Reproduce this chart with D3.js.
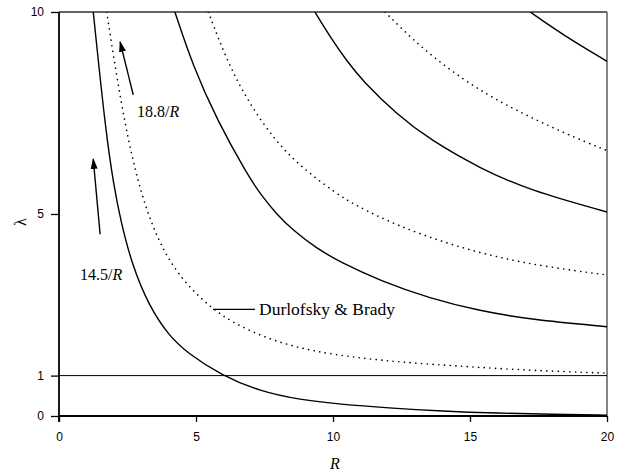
<!DOCTYPE html>
<html>
<head>
<meta charset="utf-8">
<script src="https://cdn.jsdelivr.net/npm/d3@7"></script>
<style>
  html, body { margin: 0; padding: 0; background: #fff; }
  svg { display: block; }
</style>
</head>
<body>
<svg id="chart" width="621" height="475"></svg>
<script>
// Neutral curves λ(R): [R, λ] samples for each branch
const solidA  = [[1.25,10],[1.7,7.06],[2.0,5.7],[2.25,4.84],[2.65,3.77],[3.3,2.7],[4.0,2.0],[4.66,1.57],[5.94,1.0],[7.34,0.61],[8.8,0.4],[10.26,0.29],[12,0.2],[14,0.12],[16,0.07],[18,0.04],[20,0.02]];
const dottedB = [[1.74,10],[2.29,7.6],[2.8,6.0],[3.2,5.1],[3.6,4.4],[4.05,3.82],[4.66,3.25],[5.51,2.7],[6.36,2.3],[7.58,1.92],[8.8,1.68],[10.0,1.52],[11.7,1.38],[13.54,1.28],[15.4,1.2],[17.19,1.13],[20,1.06]];
const solidC  = [[4.23,10],[4.89,8.66],[5.76,7.34],[6.85,6.0],[7.34,5.5],[7.95,4.99],[8.55,4.59],[9.4,4.15],[10.26,3.81],[11.72,3.35],[13.54,2.91],[15.37,2.6],[17.19,2.39],[20,2.21]];
const dottedD = [[5.45,10],[6.12,8.81],[6.85,7.84],[7.82,6.87],[8.8,6.18],[10.13,5.5],[10.86,5.2],[12.32,4.72],[14.15,4.27],[15.97,3.93],[17.8,3.69],[20,3.49]];
const solidE  = [[9.34,10],[9.89,9.39],[10.5,8.79],[11.1,8.28],[12.32,7.47],[13.54,6.84],[15.36,6.13],[17.19,5.58],[20,5.05]];
const dottedF = [[11.9,10],[12.93,9.3],[14.15,8.62],[15.36,8.06],[16.58,7.6],[18.4,7.01],[20,6.57]];
const solidG  = [[17.2,10],[18.4,9.43],[20,8.78]];

const xTicks = [0, 5, 10, 15, 20];
const yTicks = [0, 1, 5, 10];
const refLevel = 1;

// Annotations (data coordinates)
const arrow188 = { from: [2.71, 7.95], to: [2.23, 9.26] };
const label188 = { at: [2.85, 7.55], text: "18.8/", italic: "R" };
const arrow145 = { from: [1.5, 4.5], to: [1.25, 6.36] };
const label145 = { at: [0.77, 3.5], text: "14.5/", italic: "R" };
const leaderDB = { from: [5.62, 2.64], to: [7.15, 2.64] };
const labelDB  = { at: [7.3, 2.64], text: "Durlofsky & Brady" };

const margin = { left: 59, right: 14, top: 12, bottom: 59 };
const W = 621, H = 475;
const svg = d3.select("#chart");

const x = d3.scaleLinear().domain([0, 20]).range([margin.left, W - margin.right]);
const y = d3.scaleLinear().domain([0, 10]).range([H - margin.bottom, margin.top]);

const defs = svg.append("defs");
defs.append("clipPath").attr("id", "plot-clip")
  .append("rect")
  .attr("x", x(0)).attr("y", y(10))
  .attr("width", x(20) - x(0)).attr("height", y(0) - y(10));

defs.append("marker")
  .attr("id", "head")
  .attr("viewBox", "0 0 10 10")
  .attr("refX", 9).attr("refY", 5)
  .attr("markerWidth", 11).attr("markerHeight", 11)
  .attr("markerUnits", "userSpaceOnUse")
  .attr("orient", "auto")
  .append("path").attr("d", "M0,1.8 L10,5 L0,8.2 Z").attr("fill", "#000");

// Frame
svg.append("line").attr("x1", x(0)).attr("x2", x(20)).attr("y1", y(10)).attr("y2", y(10))
  .attr("stroke", "#333").attr("stroke-width", 1.5);
svg.append("line").attr("x1", x(20)).attr("x2", x(20)).attr("y1", y(10)).attr("y2", y(0))
  .attr("stroke", "#444").attr("stroke-width", 1.3);
svg.append("line").attr("x1", x(0)).attr("x2", x(20)).attr("y1", y(refLevel)).attr("y2", y(refLevel))
  .attr("stroke", "#000").attr("stroke-width", 1);

// Axes
const xAxis = d3.axisBottom(x).tickValues(xTicks).tickSize(6).tickPadding(10).tickFormat(d3.format("d"));
const yAxis = d3.axisLeft(y).tickValues(yTicks).tickSize(8).tickPadding(7).tickFormat(d3.format("d"));

const gx = svg.append("g").attr("transform", `translate(0,${y(0)})`).call(xAxis);
const gy = svg.append("g").attr("transform", `translate(${x(0)},0)`).call(yAxis);
[gx, gy].forEach(g => {
  g.select(".domain").remove();
  g.selectAll(".tick line").attr("stroke", "#000").attr("stroke-width", 1.3);
  g.selectAll(".tick text").attr("fill", "#000")
    .style("font-family", "'Liberation Sans', Arial, sans-serif").style("font-size", "12px");
});
svg.append("line").attr("x1", x(0)).attr("x2", x(20)).attr("y1", y(0)).attr("y2", y(0))
  .attr("stroke", "#000").attr("stroke-width", 1.8);
svg.append("line").attr("x1", x(0)).attr("x2", x(0)).attr("y1", y(10)).attr("y2", y(0) + 6)
  .attr("stroke", "#000").attr("stroke-width", 1.8);

// Curves
const line = d3.line().x(d => x(d[0])).y(d => y(d[1])).curve(d3.curveBasis);
const curves = [
  { data: solidA, dotted: false },
  { data: dottedB, dotted: true },
  { data: solidC, dotted: false },
  { data: dottedD, dotted: true },
  { data: solidE, dotted: false },
  { data: dottedF, dotted: true },
  { data: solidG, dotted: false }
];
const gc = svg.append("g").attr("clip-path", "url(#plot-clip)");
curves.forEach(c => {
  const p = gc.append("path").attr("d", line(c.data)).attr("fill", "none").attr("stroke", "#000");
  if (c.dotted) {
    p.attr("stroke-width", 1.6).attr("stroke-dasharray", "0.1,5.6").attr("stroke-linecap", "round");
  } else {
    p.attr("stroke-width", 1.4);
  }
});

// Annotations
const serif = "'Liberation Serif', 'Times New Roman', serif";
function arrow(a) {
  svg.append("line")
    .attr("x1", x(a.from[0])).attr("y1", y(a.from[1]))
    .attr("x2", x(a.to[0])).attr("y2", y(a.to[1]))
    .attr("stroke", "#000").attr("stroke-width", 1.4)
    .attr("marker-end", "url(#head)");
}
function label(l, size) {
  const t = svg.append("text")
    .attr("x", x(l.at[0])).attr("y", y(l.at[1]))
    .attr("dy", "0.35em")
    .style("font-family", serif).style("font-size", size + "px").attr("fill", "#000");
  t.append("tspan").text(l.text);
  if (l.italic) t.append("tspan").style("font-style", "italic").text(l.italic);
}
arrow(arrow188); label(label188, 16);
arrow(arrow145); label(label145, 16);
svg.append("line")
  .attr("x1", x(leaderDB.from[0])).attr("y1", y(leaderDB.from[1]))
  .attr("x2", x(leaderDB.to[0])).attr("y2", y(leaderDB.to[1]))
  .attr("stroke", "#000").attr("stroke-width", 1.4);
label(labelDB, 17.5);

// Axis titles
svg.append("text")
  .attr("x", (x(0) + x(20)) / 2 + 2).attr("y", 463).attr("dy", "0.35em")
  .attr("text-anchor", "middle")
  .style("font-family", serif).style("font-size", "16px").style("font-style", "italic")
  .text("R");
svg.append("text")
  .attr("transform", `translate(20,${y(5) + 8}) rotate(-90)`)
  .attr("text-anchor", "middle").attr("dy", "0.35em")
  .style("font-family", serif).style("font-size", "16px")
  .text("λ");
</script>
</body>
</html>
